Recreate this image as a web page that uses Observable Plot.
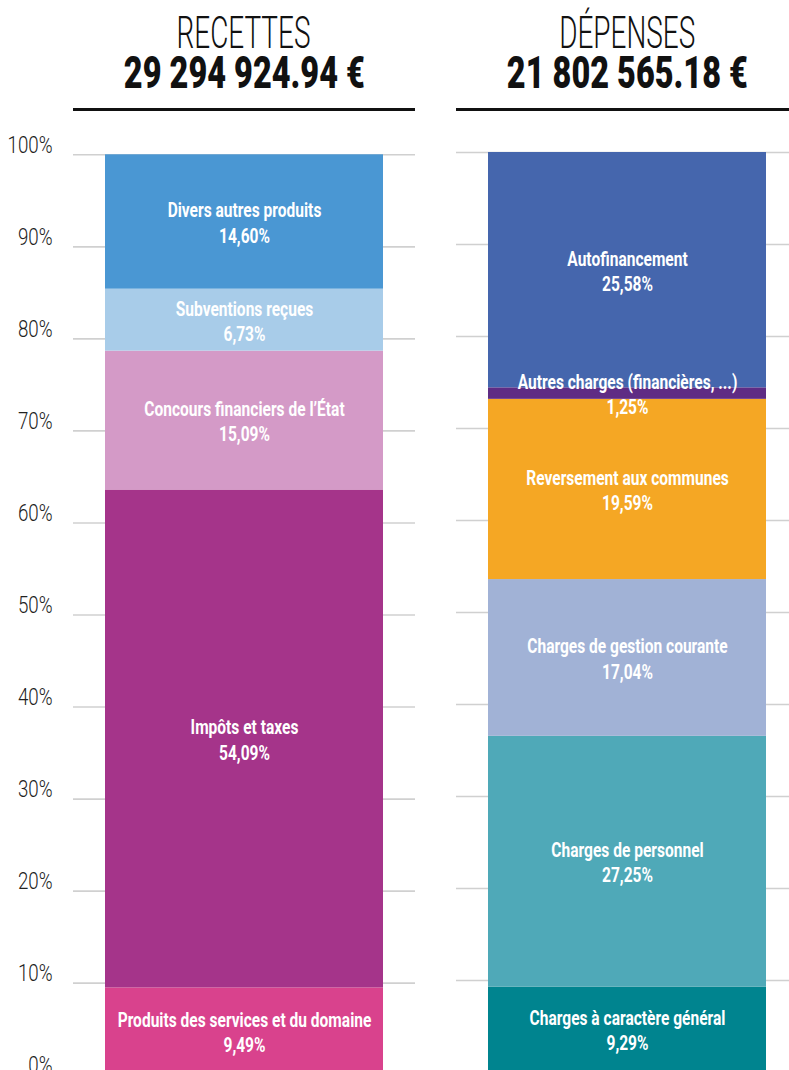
<!DOCTYPE html>
<html><head><meta charset="utf-8">
<script src="https://cdn.jsdelivr.net/npm/d3@7"></script>
<script src="https://cdn.jsdelivr.net/npm/@observablehq/plot@0.6"></script>
<style>
html,body{margin:0;padding:0;background:#fff;overflow:hidden;}
#wrap{position:relative;width:789px;height:1070px;overflow:hidden;background:#fff;}
#wrap svg{position:absolute;top:0;max-width:none;}
.head{position:absolute;width:400px;text-align:center;font-family:Roboto,"Open Sans",sans-serif;color:#111;white-space:nowrap;z-index:2;}
.head span{display:inline-block;transform-origin:50% 50%;}
.t1{font-weight:300;font-size:44px;line-height:38px;}
.t2{font-weight:900;font-size:44px;line-height:38px;}
.rule{position:absolute;height:3px;background:#111;top:108px;z-index:2;}
</style></head><body><div id="wrap"></div>
<script>
// ---- data ----
const headings = ["RECETTES", "DÉPENSES"];
const totals = ["29 294 924.94 €", "21 802 565.18 €"];

const recettesCategories = ["Produits des services et du domaine", "Impôts et taxes", "Concours financiers de l’État", "Subventions reçues", "Divers autres produits"];
const recettesValues = [9.49, 54.09, 15.09, 6.73, 14.60];
const recettesColors = ["#d9428d", "#a5348a", "#d49ac7", "#a8cce9", "#4a97d3"];

const depensesCategories = ["Charges à caractère général", "Charges de personnel", "Charges de gestion courante", "Reversement aux communes", "Autres charges (financières, ...)", "Autofinancement"];
const depensesValues = [9.29, 27.25, 17.04, 19.59, 1.25, 25.58];
const depensesColors = ["#00848f", "#4fa9b8", "#a1b2d6", "#f5a724", "#5f2c84", "#4566ad"];

const yTicks = [0, 10, 20, 30, 40, 50, 60, 70, 80, 90, 100];

// ---- drawing ----
const wrap = document.getElementById("wrap");
const fmt = v => v.toFixed(2).replace(".", ",") + "%";

function squeeze(group, s) {
  if (!group) return;
  group.querySelectorAll("text").forEach(t => {
    const tr = t.getAttribute("transform") || "";
    if (t.hasAttribute("x") || t.hasAttribute("y")) {
      const x = +t.getAttribute("x") || 0, y = +t.getAttribute("y") || 0;
      t.removeAttribute("x"); t.removeAttribute("y");
      t.setAttribute("transform", `${tr} translate(${x},${y}) scale(${s},1)`);
    } else {
      t.setAttribute("transform", `${tr} scale(${s},1)`);
    }
  });
}

function panel(categories, values, colors, opts) {
  const rows = categories.map((name, i) => ({name, value: values[i]}));
  const marks = [
    Plot.ruleY(yTicks, {stroke: "#d0d0d0", strokeWidth: 1.6}),
    Plot.barY(rows, {y: "value", fill: "name", insetLeft: 32, insetRight: 32})
  ];
  if (opts.axis) {
    marks.push(Plot.text(yTicks, {y: d => d, text: d => d + "%", frameAnchor: "left", textAnchor: "end",
      dx: -21, dy: -2, fontSize: 24, fontWeight: 300, fill: "#222"}));
  }
  marks.push(Plot.text(rows, Plot.stackY({y: "value", text: d => d.name + "\n" + fmt(d.value),
    fill: "white", fontSize: 21, fontWeight: 700, lineHeight: 1.2})));
  const svg = Plot.plot({
    width: opts.width, height: 1090,
    marginLeft: opts.marginLeft, marginRight: 0, marginTop: 0, marginBottom: 0,
    y: {domain: [0, 100], range: opts.yRange, axis: null},
    color: {domain: categories, range: colors},
    style: {fontFamily: "Roboto, 'Open Sans', sans-serif", background: "transparent", overflow: "visible"},
    marks
  });
  svg.style.left = opts.left + "px";
  wrap.appendChild(svg);
  const groups = svg.querySelectorAll('g[aria-label="text"]');
  if (opts.axis) { squeeze(groups[0], 0.78); squeeze(groups[1], 0.74); }
  else squeeze(groups[0], 0.74);
}

panel(recettesCategories, recettesValues, recettesColors, {width: 415, marginLeft: 73, left: 0, yRange: [1074.7, 154.3], axis: true});
panel(depensesCategories, depensesValues, depensesColors, {width: 342, marginLeft: 0, left: 456, yRange: [1072, 152], axis: false});

// headers
const centers = [244, 627];
const ruleSpans = [[73, 342], [456, 340]];
const spans1 = [], spans2 = [];
headings.forEach((h, i) => {
  const d1 = document.createElement("div");
  d1.className = "head t1"; d1.style.left = (centers[i] - 200) + "px"; d1.style.top = "14px";
  const s1 = document.createElement("span"); s1.textContent = h; d1.appendChild(s1);
  const d2 = document.createElement("div");
  d2.className = "head t2"; d2.style.left = (centers[i] - 200) + "px"; d2.style.top = "54px";
  const s2 = document.createElement("span"); s2.textContent = totals[i]; d2.appendChild(s2);
  wrap.appendChild(d1); wrap.appendChild(d2);
  spans1.push(s1); spans2.push(s2);
  const r = document.createElement("div");
  r.className = "rule"; r.style.left = ruleSpans[i][0] + "px"; r.style.width = ruleSpans[i][1] + "px";
  wrap.appendChild(r);
});
const k1 = 134 / spans1[0].getBoundingClientRect().width;
const k2 = 241 / spans2[0].getBoundingClientRect().width;
spans1.forEach(s => s.style.transform = `scaleX(${k1})`);
spans2.forEach(s => s.style.transform = `scaleX(${k2})`);
</script></body></html>
